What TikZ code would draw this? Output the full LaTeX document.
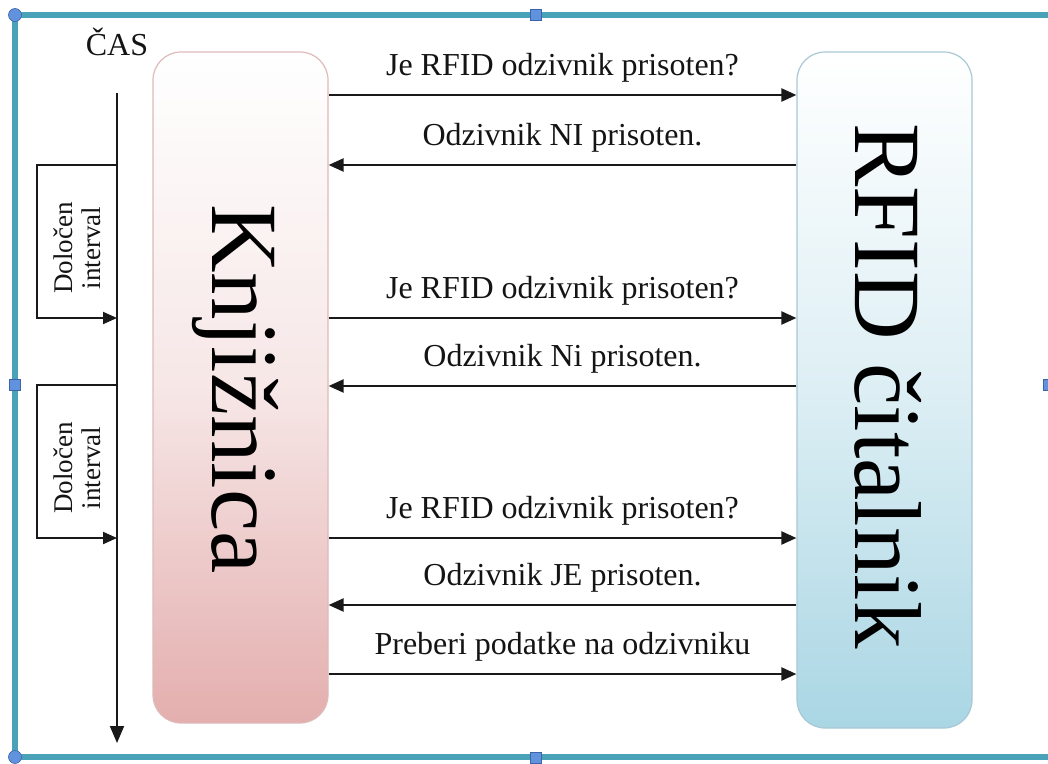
\documentclass[tikz,border=0pt]{standalone}
\usepackage{fontspec}
\setmainfont{Liberation Serif}
\usetikzlibrary{arrows.meta,calc}
\definecolor{frameteal}{RGB}{74,162,184}
\definecolor{handleblue}{RGB}{96,146,222}
\definecolor{handleedge}{RGB}{60,100,170}
\definecolor{pinkfill}{RGB}{228,174,174}
\definecolor{pinkedge}{RGB}{222,186,186}
\definecolor{bluefill}{RGB}{170,214,228}
\definecolor{blueedge}{RGB}{168,200,214}
\definecolor{arrowgray}{RGB}{25,25,25}
\definecolor{txt}{RGB}{20,20,20}
\tikzset{
  msg/.style={draw=arrowgray, line width=2.2pt, -{Triangle[length=15pt,width=13pt]}},
  msglabel/.style={font=\fontsize{32}{34}\selectfont, anchor=base, text=txt, inner sep=0pt},
  bigtext/.style={font=\fontsize{95}{100}\selectfont, inner sep=0pt, anchor=base, text=black},
  intervaltext/.style={font=\fontsize{27}{28}\selectfont, align=center, inner sep=0pt, rotate=90, text=txt},
  bracket/.style={draw=arrowgray, line width=2pt, -{Triangle[length=14pt,width=12pt]}},
  handle/.style={fill=handleblue, draw=handleedge, line width=0.6pt},
}
\begin{document}
\begin{tikzpicture}[x=1pt,y=-1pt]
\useasboundingbox (0,0) rectangle (1048,763);
\fill[white] (0,0) rectangle (1048,763);
% frame
\draw[frameteal, line width=6pt] (15,15) -- (1060,15);
\draw[frameteal, line width=6pt] (15,757) -- (1060,757);
\draw[frameteal, line width=6pt] (15,15) -- (15,757);
\begin{scope}
\clip (0,0) rectangle (1048,763);
\draw[handle] (15,15) circle (6.5);
\draw[handle] (15,757) circle (6.5);
\draw[handle] (530,9) rectangle (541,20);
\draw[handle] (530,752) rectangle (541,763);
\draw[handle] (9,379) rectangle (20,390);
\draw[handle] (1043,379) rectangle (1054,390);
\end{scope}
% boxes
\node[draw=pinkedge, line width=1.2pt, rounded corners=28pt, top color=white, bottom color=pinkfill,
  middle color=pinkfill!30!white,
  minimum width=175pt, minimum height=671pt, inner sep=0pt] (lib) at (240.5,387.5) {};
\node[draw=blueedge, line width=1.2pt, rounded corners=28pt, top color=white, bottom color=bluefill,
  middle color=bluefill!40!white,
  minimum width=175pt, minimum height=676pt, inner sep=0pt] (rdr) at (884.5,390) {};
\node[bigtext, rotate=-90] (libt) at (212,389) {Knjižnica};
\node[bigtext, rotate=-90] (rdrt) at (855,386) {RFID čitalnik};
% time axis
\node[font=\fontsize{32}{34}\selectfont, anchor=base, inner sep=0pt, text=txt] (cas) at (117,55) {ČAS};
\coordinate (ttop) at (117,93);
\coordinate (tbot) at (117,743);
\draw[draw=arrowgray, line width=2pt, -{Triangle[length=17pt,width=14pt]}] (ttop) -- (tbot);
% interval brackets
\coordinate (b1a) at (117,165);
\coordinate (b1b) at (37,165);
\coordinate (b1c) at (37,318);
\coordinate (b1d) at (117,318);
\draw[bracket] (b1a) -- (b1b) -- (b1c) -- (b1d);
\node[intervaltext] (int1) at (77,248) {Določen\\interval};
\coordinate (b2a) at (117,385);
\coordinate (b2b) at (37,385);
\coordinate (b2c) at (37,538);
\coordinate (b2d) at (117,538);
\draw[bracket] (b2a) -- (b2b) -- (b2c) -- (b2d);
\node[intervaltext] (int2) at (77,468) {Določen\\interval};
% messages
\foreach \y/\dir/\txt [count=\i] in {
  95/r/{Je RFID odzivnik prisoten?},
  165/l/{Odzivnik NI prisoten.},
  318/r/{Je RFID odzivnik prisoten?},
  386/l/{Odzivnik Ni prisoten.},
  538/r/{Je RFID odzivnik prisoten?},
  605/l/{Odzivnik JE prisoten.},
  674/r/{Preberi podatke na odzivniku}}{
  \coordinate (L\i) at (lib.east |- 0,\y);
  \coordinate (R\i) at (rdr.west |- 0,\y);
  \if r\dir
    \draw[msg] (L\i) -- (R\i);
  \else
    \draw[msg] (R\i) -- (L\i);
  \fi
  \node[msglabel] (m\i) at ($(L\i)!0.5!(R\i)+(0,-20)$) {\txt};
}
\end{tikzpicture}
\end{document}
